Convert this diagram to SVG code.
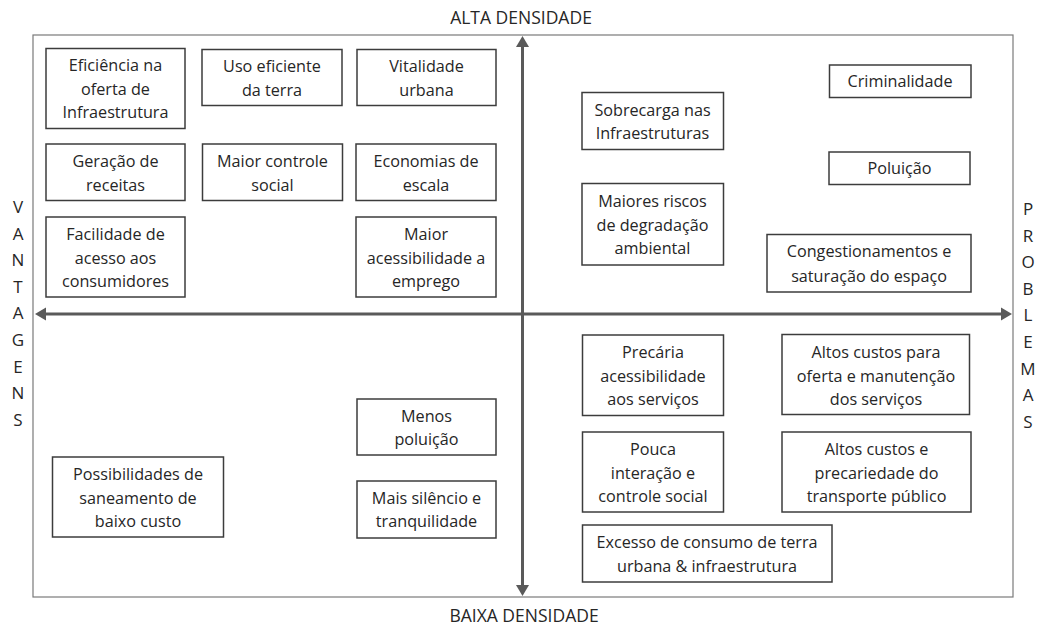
<svg xmlns="http://www.w3.org/2000/svg" width="1041" height="626" viewBox="0 0 1041 626">
  <style>
    text { font-family: "Open Sans", "Liberation Sans", sans-serif; fill: #262626; }
    .t { font-size: 16.2px; text-anchor: middle; }
    .lab { font-size: 17.5px; text-anchor: middle; }
    .side { font-size: 17px; text-anchor: middle; }
    .box { fill: #ffffff; stroke: #3c3c3c; stroke-width: 1.5; }
    .axis { stroke: #5a5a5a; stroke-width: 3; fill: none; marker-start: url(#ah); marker-end: url(#ah); }
    .frame { fill: #ffffff; stroke: #7a7a7a; stroke-width: 1.2; }
  </style>
  <defs>
    <marker id="ah" markerUnits="userSpaceOnUse" markerWidth="12" markerHeight="14" refX="0" refY="6.5" orient="auto-start-reverse" viewBox="0 0 12 13">
      <path d="M0,0 L11,6.5 L0,13 z" fill="#5a5a5a"/>
    </marker>
  </defs>
  <rect width="1041" height="626" fill="#ffffff"/>

  <g id="frame">
    <rect class="frame" x="33" y="35" width="980" height="562"/>
  </g>

  <g id="connectors">
    <line class="axis" x1="522.5" y1="47" x2="522.5" y2="585"/>
    <line class="axis" x1="46" y1="314" x2="1001" y2="314"/>
  </g>

  <g id="axis-labels">
    <text class="lab" x="521" y="24">ALTA DENSIDADE</text>
    <text class="lab" x="524" y="621.5">BAIXA DENSIDADE</text>
  </g>

  <g id="vantagens">
    <text class="side" x="18" y="213">V</text>
    <text class="side" x="18" y="239.6">A</text>
    <text class="side" x="18" y="266.2">N</text>
    <text class="side" x="18" y="292.8">T</text>
    <text class="side" x="18" y="319.4">A</text>
    <text class="side" x="18" y="346">G</text>
    <text class="side" x="18" y="372.6">E</text>
    <text class="side" x="18" y="399.2">N</text>
    <text class="side" x="18" y="425.8">S</text>
  </g>

  <g id="problemas">
    <text class="side" x="1028" y="215">P</text>
    <text class="side" x="1028" y="241.6">R</text>
    <text class="side" x="1028" y="268.2">O</text>
    <text class="side" x="1028" y="294.8">B</text>
    <text class="side" x="1028" y="321.4">L</text>
    <text class="side" x="1028" y="348">E</text>
    <text class="side" x="1028" y="374.6">M</text>
    <text class="side" x="1028" y="401.2">A</text>
    <text class="side" x="1028" y="427.8">S</text>
  </g>

  <!-- Top-left: vantagens alta densidade -->
  <g id="n-eficiencia">
    <rect class="box" x="46" y="48.5" width="139" height="80"/>
    <text class="t" x="115.5" y="71">Eficiência na</text>
    <text class="t" x="115.5" y="94.5">oferta de</text>
    <text class="t" x="115.5" y="118">Infraestrutura</text>
  </g>
  <g id="n-uso">
    <rect class="box" x="202" y="49.5" width="140" height="56"/>
    <text class="t" x="272" y="71.5">Uso eficiente</text>
    <text class="t" x="272" y="95.5">da terra</text>
  </g>
  <g id="n-vitalidade">
    <rect class="box" x="357" y="49.5" width="139" height="56"/>
    <text class="t" x="426.5" y="71.5">Vitalidade</text>
    <text class="t" x="426.5" y="95.5">urbana</text>
  </g>
  <g id="n-geracao">
    <rect class="box" x="46" y="144" width="139" height="56.5"/>
    <text class="t" x="115.5" y="167">Geração de</text>
    <text class="t" x="115.5" y="190.5">receitas</text>
  </g>
  <g id="n-controle">
    <rect class="box" x="202.5" y="144" width="140" height="56.5"/>
    <text class="t" x="272.5" y="167">Maior controle</text>
    <text class="t" x="272.5" y="190.5">social</text>
  </g>
  <g id="n-economias">
    <rect class="box" x="356" y="144" width="140" height="56.5"/>
    <text class="t" x="426" y="167">Economias de</text>
    <text class="t" x="426" y="190.5">escala</text>
  </g>
  <g id="n-facilidade">
    <rect class="box" x="46" y="217" width="139" height="80"/>
    <text class="t" x="115.5" y="240">Facilidade de</text>
    <text class="t" x="115.5" y="264">acesso aos</text>
    <text class="t" x="115.5" y="287">consumidores</text>
  </g>
  <g id="n-acessibilidade">
    <rect class="box" x="356" y="217" width="140" height="80"/>
    <text class="t" x="426" y="240">Maior</text>
    <text class="t" x="426" y="264">acessibilidade a</text>
    <text class="t" x="426" y="287">emprego</text>
  </g>

  <!-- Top-right: problemas alta densidade -->
  <g id="n-criminalidade">
    <rect class="box" x="829.5" y="65" width="141.5" height="32.5"/>
    <text class="t" x="900" y="87">Criminalidade</text>
  </g>
  <g id="n-sobrecarga">
    <rect class="box" x="582" y="92.5" width="141.5" height="57"/>
    <text class="t" x="652.5" y="115.5">Sobrecarga nas</text>
    <text class="t" x="652.5" y="139">Infraestruturas</text>
  </g>
  <g id="n-poluicao">
    <rect class="box" x="829" y="152" width="141" height="32.5"/>
    <text class="t" x="899.5" y="174">Poluição</text>
  </g>
  <g id="n-riscos">
    <rect class="box" x="582" y="183.5" width="141.5" height="81.5"/>
    <text class="t" x="652.5" y="206.5">Maiores riscos</text>
    <text class="t" x="652.5" y="230.5">de degradação</text>
    <text class="t" x="652.5" y="254">ambiental</text>
  </g>
  <g id="n-congestionamentos">
    <rect class="box" x="767" y="234.5" width="204" height="57.5"/>
    <text class="t" x="869" y="257">Congestionamentos e</text>
    <text class="t" x="869" y="281.5">saturação do espaço</text>
  </g>

  <!-- Bottom-left: vantagens baixa densidade -->
  <g id="n-menos-poluicao">
    <rect class="box" x="357" y="399" width="139" height="56"/>
    <text class="t" x="426.5" y="421.5">Menos</text>
    <text class="t" x="426.5" y="445">poluição</text>
  </g>
  <g id="n-silencio">
    <rect class="box" x="357" y="481" width="139" height="57"/>
    <text class="t" x="426.5" y="504">Mais silêncio e</text>
    <text class="t" x="426.5" y="527">tranquilidade</text>
  </g>
  <g id="n-saneamento">
    <rect class="box" x="52.5" y="457" width="171" height="80"/>
    <text class="t" x="138" y="479.5">Possibilidades de</text>
    <text class="t" x="138" y="503.5">saneamento de</text>
    <text class="t" x="138" y="526.5">baixo custo</text>
  </g>

  <!-- Bottom-right: problemas baixa densidade -->
  <g id="n-precaria">
    <rect class="box" x="582.5" y="335" width="141" height="80.5"/>
    <text class="t" x="653" y="358">Precária</text>
    <text class="t" x="653" y="381.5">acessibilidade</text>
    <text class="t" x="653" y="404.5">aos serviços</text>
  </g>
  <g id="n-altos-custos-oferta">
    <rect class="box" x="782" y="334.5" width="187.5" height="80"/>
    <text class="t" x="876" y="358">Altos custos para</text>
    <text class="t" x="876" y="381.5">oferta e manutenção</text>
    <text class="t" x="876" y="404.5">dos serviços</text>
  </g>
  <g id="n-pouca">
    <rect class="box" x="582.5" y="432" width="141" height="80"/>
    <text class="t" x="653" y="455">Pouca</text>
    <text class="t" x="653" y="479">interação e</text>
    <text class="t" x="653" y="501.5">controle social</text>
  </g>
  <g id="n-altos-custos-transporte">
    <rect class="box" x="782" y="432" width="189" height="80"/>
    <text class="t" x="876.5" y="455">Altos custos e</text>
    <text class="t" x="876.5" y="479">precariedade do</text>
    <text class="t" x="876.5" y="501.5">transporte público</text>
  </g>
  <g id="n-excesso">
    <rect class="box" x="582.5" y="525" width="249.5" height="57"/>
    <text class="t" x="707" y="548">Excesso de consumo de terra</text>
    <text class="t" x="707" y="571.5">urbana &amp; infraestrutura</text>
  </g>
</svg>
